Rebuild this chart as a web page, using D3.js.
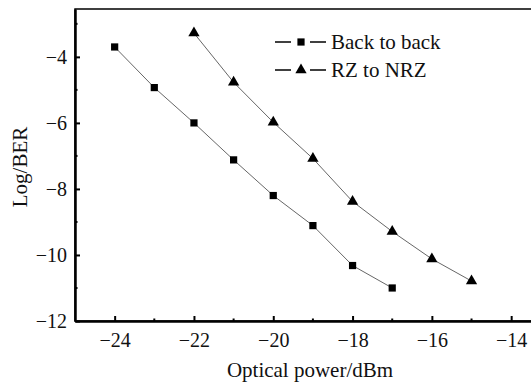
<!DOCTYPE html>
<html>
<head>
<meta charset="utf-8">
<script src="https://cdn.jsdelivr.net/npm/d3@7"></script>
<style>
body { margin: 0; background: #fff; }
text { font-family: "Liberation Serif", "Times New Roman", serif; fill: #111; }
</style>
</head>
<body>
<script>
var power = [-24, -23, -22, -21, -20, -19, -18, -17, -16, -15];
var backToBack = [-3.7, -4.93, -6.0, -7.12, -8.2, -9.11, -10.32, -11.0];
var rzToNrz = [-3.28, -4.77, -5.98, -7.08, -8.38, -9.29, -10.12, -10.79];
var xTicks = [-24, -22, -20, -18, -16, -14];
var yTicks = [-4, -6, -8, -10, -12];

var width = 531, height = 385;
var svg = d3.select("body").append("svg")
    .attr("width", width)
    .attr("height", height);

var x = d3.scaleLinear().domain([-25, -13.5]).range([75, 531]);
var y = d3.scaleLinear().domain([-12, -2.55]).range([321, 9]);

// frame
svg.append("rect")
    .attr("x", 75).attr("y", 9)
    .attr("width", 460).attr("height", 312)
    .attr("fill", "none").attr("stroke", "#000").attr("stroke-width", 1.5);

// ticks (inward)
var xAxis = d3.axisBottom(x).tickValues(xTicks).tickSizeInner(-5).tickSizeOuter(0)
    .tickPadding(12).tickFormat(d3.format("d"));
var gx = svg.append("g").attr("transform", "translate(0,321)").call(xAxis)
    .attr("font-family", "Liberation Serif").attr("font-size", 20);
gx.select(".domain").attr("stroke-width", 2.5);
gx.selectAll(".tick line").attr("stroke-width", 2);
gx.selectAll(".minor").data(d3.range(-23, -13, 2)).enter().append("line")
    .attr("x1", d => x(d)).attr("x2", d => x(d))
    .attr("y1", 0).attr("y2", -2.5).attr("stroke", "#000").attr("stroke-width", 2);

var yAxis = d3.axisLeft(y).tickValues(yTicks).tickSizeInner(-5).tickSizeOuter(0)
    .tickPadding(8).tickFormat(d3.format("d"));
var gy = svg.append("g").attr("transform", "translate(75,0)").call(yAxis)
    .attr("font-family", "Liberation Serif").attr("font-size", 20);
gy.select(".domain").attr("stroke-width", 2.5);
gy.selectAll(".tick line").attr("stroke-width", 2);
gy.selectAll(".minor").data([-3, -5, -7, -9, -11]).enter().append("line")
    .attr("y1", d => y(d)).attr("y2", d => y(d))
    .attr("x1", 0).attr("x2", 2.5).attr("stroke", "#000").attr("stroke-width", 2);

var line = d3.line().x(d => x(d[0])).y(d => y(d[1]));
var s1 = backToBack.map((v, i) => [power[i], v]);
var s2 = rzToNrz.map((v, i) => [power[i + 2], v]);

[s1, s2].forEach(function(s) {
    svg.append("path").datum(s).attr("d", line)
        .attr("fill", "none").attr("stroke", "#555").attr("stroke-width", 0.9);
});

var sq = d3.symbol().type(d3.symbolSquare).size(52);
var tri = d3.symbol().type(d3.symbolTriangle).size(55);
svg.selectAll(".sq").data(s1).enter().append("path")
    .attr("d", sq).attr("transform", d => "translate(" + x(d[0]) + "," + y(d[1]) + ")")
    .attr("fill", "#000");
svg.selectAll(".tri").data(s2).enter().append("path")
    .attr("d", tri).attr("transform", d => "translate(" + x(d[0]) + "," + y(d[1]) + ")")
    .attr("fill", "#000");

// legend
var legend = [["Back to back", sq, 42], ["RZ to NRZ", tri, 70]];
legend.forEach(function(l) {
    var g = svg.append("g").attr("transform", "translate(0," + l[2] + ")");
    g.append("line").attr("x1", 275).attr("x2", 291).attr("y1", 0).attr("y2", 0)
        .attr("stroke", "#000").attr("stroke-width", 1.5);
    g.append("line").attr("x1", 310).attr("x2", 326).attr("y1", 0).attr("y2", 0)
        .attr("stroke", "#000").attr("stroke-width", 1.5);
    g.append("path").attr("d", l[1]).attr("transform", "translate(301,0)").attr("fill", "#000");
    g.append("text").attr("x", 331).attr("y", 6.5).style("font-size", "21px").text(l[0]);
});

svg.append("text").attr("x", 310).attr("y", 377).attr("text-anchor", "middle")
    .style("font-size", "21px").text("Optical power/dBm");
svg.append("text").attr("transform", "translate(27,167) rotate(-90)")
    .attr("text-anchor", "middle").style("font-size", "21px").text("Log/BER");
</script>
</body>
</html>
